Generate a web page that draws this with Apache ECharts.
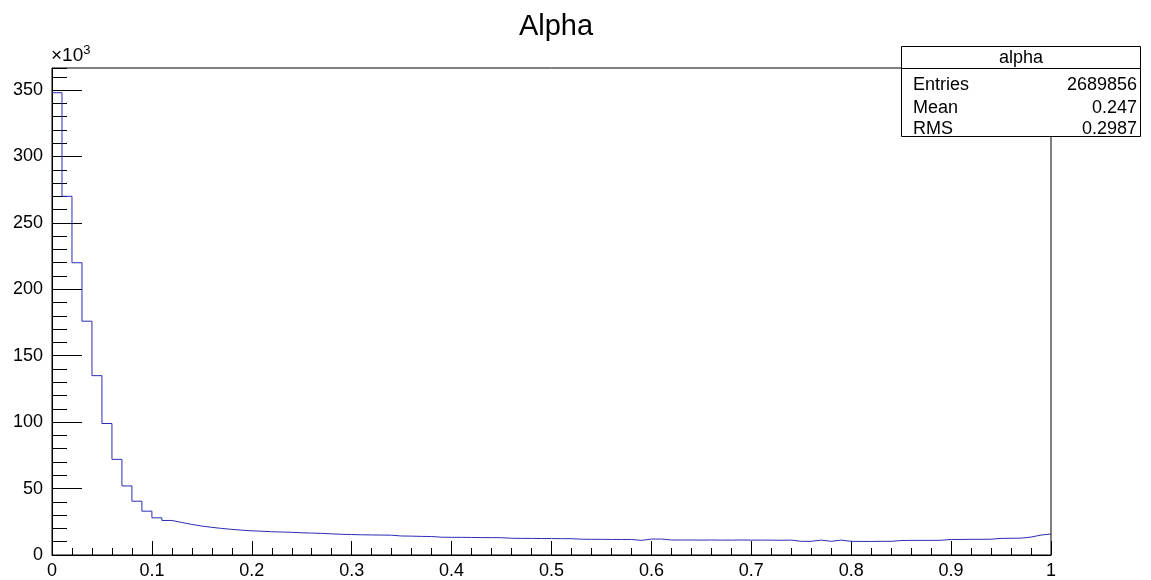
<!DOCTYPE html>
<html>
<head>
<meta charset="utf-8">
<title>Alpha</title>
<script src="https://cdn.jsdelivr.net/npm/echarts@6/dist/echarts.min.js"></script>
<style>
  html, body { margin: 0; padding: 0; background: #ffffff; }
  #chart { width: 1151px; height: 580px; }
</style>
</head>
<body>
<div id="chart"></div>
<script>
// histogram: 100 bins from 0 to 1, counts in units of 10^3
const binLow = 0
const binWidth = 0.01
const counts = [
  348, 270, 220, 176, 135, 99, 72, 52, 40.5, 33,
  28, 26, 24.5, 23, 21.8, 20.8, 20, 19.3, 18.7, 18.2,
  17.9, 17.5, 17.3, 17.1, 16.7, 16.5, 16.3, 15.9, 15.6, 15.4,
  15.2, 15.1, 15.0, 14.9, 14.3, 14.2, 14.0, 13.9, 13.4, 13.3,
  13.3, 13.2, 13.1, 13.1, 13.0, 12.6, 12.5, 12.5, 12.4, 12.4,
  12.3, 12.3, 11.9, 11.8, 11.8, 11.7, 11.7, 11.7, 11.0, 12.0,
  12.0, 11.3, 11.3, 11.3, 11.2, 11.3, 11.2, 11.2, 11.3, 11.2,
  11.2, 11.2, 11.1, 11.2, 10.3, 10.3, 11.2, 10.3, 11.2, 10.3,
  10.2, 10.2, 10.3, 10.3, 10.9, 11.0, 11.0, 11.0, 11.1, 11.7,
  11.7, 11.8, 11.8, 11.9, 12.5, 12.6, 12.7, 13.5, 15.0, 15.8
]
const xTicks = [0, 0.1, 0.2, 0.3, 0.4, 0.5, 0.6, 0.7, 0.8, 0.9, 1]
const yMax = 366.6
const statNames = ['Entries', 'Mean', 'RMS']
const statValues = ['2689856', '0.247', '0.2987']

const FONT = 'Liberation Sans, Arial, Helvetica, sans-serif'

// step points: left edge of each bin, plus the right edge of the last bin
const stepData = counts.map((v, i) => [+(binLow + i * binWidth).toFixed(4), v])
stepData.push([+(binLow + counts.length * binWidth).toFixed(4), counts[counts.length - 1]])

const chart = echarts.init(document.getElementById('chart'))

// stats box rows (ROOT style)
const statRows = []
statNames.forEach((name, i) => {
  const y = [85, 108, 129][i]
  statRows.push({
    type: 'text', z: 101, x: 913, y: y,
    style: { text: name, fontSize: 18, fontFamily: FONT, fill: '#000', verticalAlign: 'middle' }
  })
  statRows.push({
    type: 'text', z: 101, x: 1137, y: y,
    style: { text: statValues[i], fontSize: 18, fontFamily: FONT, fill: '#000', align: 'right', verticalAlign: 'middle' }
  })
})

const option = {
  backgroundColor: '#ffffff',
  animation: false,
  title: {
    text: 'Alpha',
    left: 551,
    textAlign: 'center',
    top: 7,
    textStyle: { fontFamily: FONT, fontSize: 29, fontWeight: 'normal', color: '#000' }
  },
  grid: {
    left: 52, top: 68, right: 100, bottom: 24,
    show: true, borderColor: '#000', borderWidth: 1
  },
  xAxis: {
    type: 'value',
    min: xTicks[0],
    max: xTicks[xTicks.length - 1],
    interval: 0.1,
    axisLine: { lineStyle: { color: '#000', width: 1 } },
    axisTick: { inside: true, length: 14, lineStyle: { color: '#000' } },
    minorTick: { show: true, splitNumber: 5, length: 7, lineStyle: { color: '#000' } },
    splitLine: { show: false },
    axisLabel: { margin: 7, fontFamily: FONT, fontSize: 18, color: '#000' }
  },
  yAxis: [
    {
      type: 'value', position: 'left',
      min: 0, max: yMax, interval: 50,
      axisLine: { show: true, lineStyle: { color: '#000', width: 1 } },
      axisTick: { inside: true, length: 30, lineStyle: { color: '#000' } },
      splitLine: { show: false },
      axisLabel: { margin: 9, fontFamily: FONT, fontSize: 18, color: '#000', showMaxLabel: false }
    },
    {
      type: 'value', position: 'left',
      min: 0, max: yMax, interval: 10,
      axisLine: { show: false },
      axisTick: { inside: true, length: 15, lineStyle: { color: '#000' } },
      splitLine: { show: false },
      axisLabel: { show: false }
    }
  ],
  series: [{
    type: 'line',
    step: 'end',
    yAxisIndex: 0,
    data: stepData,
    showSymbol: false,
    lineStyle: { color: '#2b2bb8', width: 1 },
    clip: true
  }],
  graphic: [
    {
      type: 'text', x: 51, y: 67,
      style: {
        text: '{base|×10}{sup|3}',
        fill: '#000',
        verticalAlign: 'bottom',
        rich: {
          base: { fontSize: 19, fontFamily: FONT, color: '#000' },
          sup: { fontSize: 13, fontFamily: FONT, color: '#000', padding: [0, 0, 10, 0] }
        }
      }
    },
    {
      type: 'rect', z: 100,
      shape: { x: 901.5, y: 46.5, width: 239, height: 90 },
      style: { fill: '#fff', stroke: '#000', lineWidth: 1 }
    },
    {
      type: 'line', z: 101,
      shape: { x1: 901.5, y1: 68.5, x2: 1140.5, y2: 68.5 },
      style: { stroke: '#000', lineWidth: 1 }
    },
    {
      type: 'text', z: 101, x: 1021, y: 58,
      style: { text: 'alpha', fontSize: 18, fontFamily: FONT, fill: '#000', align: 'center', verticalAlign: 'middle' }
    }
  ].concat(statRows)
}

chart.setOption(option)
</script>
</body>
</html>
